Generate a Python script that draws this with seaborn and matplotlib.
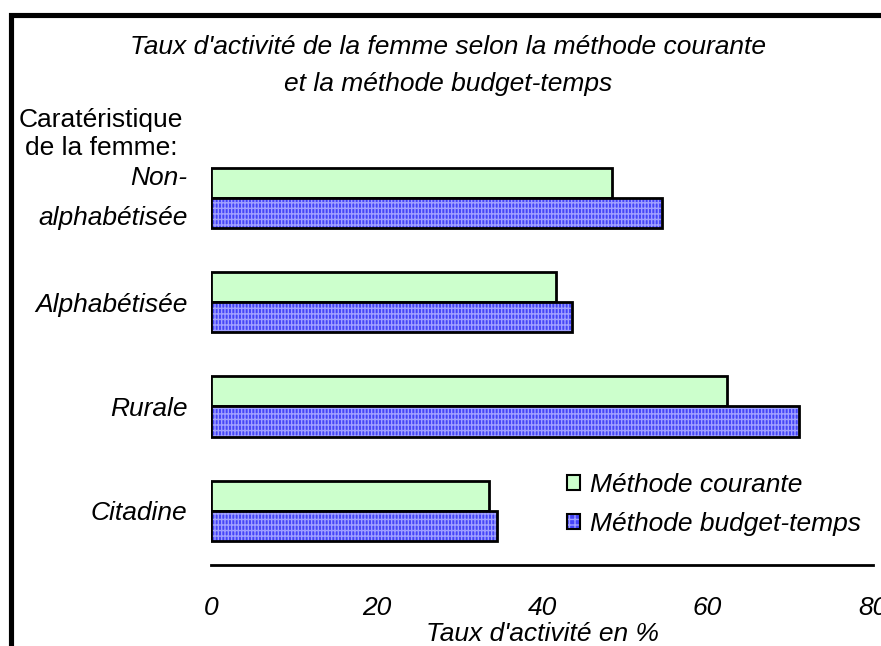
import matplotlib
matplotlib.use("Agg")
import matplotlib.pyplot as plt
import seaborn as sns
import pandas as pd
from matplotlib.patches import Rectangle, Patch
from matplotlib.legend_handler import HandlerTuple

categories = ["Non-\nalphabétisée", "Alphabétisée", "Rurale", "Citadine"]
series_names = ["Méthode courante", "Méthode budget-temps"]
courante = [48.4, 41.7, 62.3, 33.6]
budget_temps = [54.5, 43.6, 71.1, 34.6]
xticks = [0, 20, 40, 60, 80]

df = pd.DataFrame({
    "cat": categories * 2,
    "serie": [series_names[0]] * 4 + [series_names[1]] * 4,
    "val": courante + budget_temps,
})

sns.set_theme(style="white")
plt.rcParams["font.family"] = ["Liberation Sans", "DejaVu Sans"]
plt.rcParams["text.color"] = "black"
plt.rcParams["xtick.color"] = "black"
plt.rcParams["ytick.color"] = "black"
plt.rcParams["axes.labelcolor"] = "black"

FS = 19
W, H = 881, 646
fig = plt.figure(figsize=(W / 100, H / 100), dpi=100)
ax = fig.add_axes([211 / W, 1 - 565 / H, (873 - 211) / W, (565 - 130) / H])

green = "#ccffcc"
blue = "#4545f8"
sns.barplot(data=df, y="cat", x="val", hue="serie", order=categories,
            hue_order=series_names, palette=[green, blue], orient="h",
            width=0.58, saturation=1, ax=ax, legend=False)

bars = list(ax.patches)
n = len(categories)
for i, p in enumerate(bars):
    if i < n:
        p.set_edgecolor("black")
        p.set_linewidth(2.0)
    else:
        p.set_edgecolor("#a0a0ff")
        p.set_hatch("|||||---")
        p.set_linewidth(0)
        bb = p.get_bbox()
        ax.add_patch(Rectangle((bb.x0, bb.y0), bb.width, bb.height,
                               fill=False, edgecolor="black", linewidth=2.0,
                               zorder=p.get_zorder() + 0.1))

ax.set_xlim(0, 80)
ax.set_ylim(3.52, -0.65)
ax.set_xticks(xticks)
ax.set_xticklabels([str(t) for t in xticks], fontsize=FS, fontstyle="italic")
ax.set_yticks(range(n))
ax.set_yticklabels(categories, fontsize=FS, fontstyle="italic", linespacing=1.85)
for lbl in ax.get_yticklabels():
    if "\n" in lbl.get_text():
        lbl.set_va("center")
ax.tick_params(axis="both", length=0)
ax.tick_params(axis="x", pad=22)
ax.tick_params(axis="y", pad=17)
for s in ["top", "right", "left"]:
    ax.spines[s].set_visible(False)
ax.spines["bottom"].set_color("black")
ax.spines["bottom"].set_linewidth(2.0)
ax.set_ylabel("")
ax.set_xlabel("Taux d'activité en %", fontsize=FS, fontstyle="italic", labelpad=2)
ax.grid(False)

fig.text(448 / W, 1 - 65.5 / H,
         "Taux d'activité de la femme selon la méthode courante\net la méthode budget-temps",
         ha="center", va="center", fontsize=FS, fontstyle="italic", linespacing=1.7)
fig.text(101 / W, 1 - 134 / H, "Caratéristique\nde la femme:",
         ha="center", va="center", fontsize=FS, linespacing=1.2)

h_green = Patch(facecolor=green, edgecolor="black", linewidth=1.5)
h_blue = (Patch(facecolor=blue, edgecolor="#a0a0ff", hatch="|||---", linewidth=0),
          Patch(facecolor="none", edgecolor="black", linewidth=1.5))
leg = fig.legend([h_green, h_blue], series_names, loc="center left",
                 bbox_to_anchor=(543 / W, 1 - 504.5 / H), frameon=False,
                 prop={"size": FS, "style": "italic"}, handlelength=0.5,
                 handleheight=0.5, handletextpad=0.38, labelspacing=0.55,
                 handler_map={tuple: HandlerTuple(ndivide=1, pad=0)})

fig.add_artist(Rectangle((11 / W, -0.2), 1.2, 1.2 - 14.5 / H,
                         transform=fig.transFigure, fill=False,
                         edgecolor="black", linewidth=3.7))

fig.savefig("out.png", dpi=100)
